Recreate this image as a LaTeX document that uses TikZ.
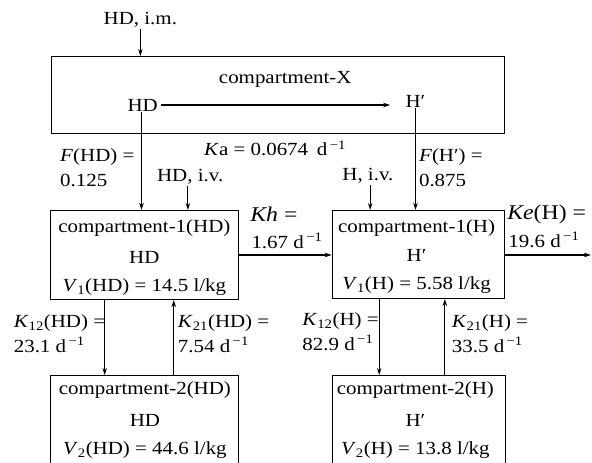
\documentclass[tikz,border=0pt]{standalone}
\usepackage{fontspec}
\setmainfont{Liberation Serif}
\usetikzlibrary{arrows.meta}
\begin{document}
\begin{tikzpicture}[x=1pt,y=-1pt,xscale=1.132,
  every node/.style={transform shape},
  box/.style={draw,line width=1.1pt,inner sep=0pt,anchor=north west},
  lbl/.style={inner sep=1pt,font=\fontsize{18.5}{20}\selectfont},
  big/.style={inner sep=1pt,font=\fontsize{21}{23}\selectfont},
  arr/.style={line width=1.1pt,-{Stealth[length=7pt,width=4.5pt]}}]
\useasboundingbox (0,0) rectangle (523,463);
% boxes
\node[box,minimum width=400pt,minimum height=77pt] (X) at (45,56) {};
\node[box,minimum width=166pt,minimum height=89pt] (c1hd) at (44,210) {};
\node[box,minimum width=152pt,minimum height=88pt] (c1h) at (293,210) {};
\node[box,minimum width=166pt,minimum height=110pt] (c2hd) at (44,375) {};
\node[box,minimum width=153pt,minimum height=110pt] (c2h) at (293,375) {};
% top texts
\node[lbl] (im) at (124,20) {HD, i.m.};
\node[lbl] (xt) at (252,79) {compartment-X};
\node[lbl] (hdx) at (126,105) {HD};
\node[lbl] (hpx) at (367,101) {H′};
\node[lbl] (ka) at (243,148) {\textit{K}a = 0.0674\, d\textsuperscript{\,−1}};
\node[lbl,anchor=west] (fhd) at (52,157) {\textit{F}(HD) =};
\node[lbl,anchor=west] (fhdv) at (52,180) {0.125};
\node[lbl] (hdiv) at (168,177) {HD, i.v.};
\node[lbl] (hiv) at (325,176) {H, i.v.};
\node[lbl,anchor=west] (fh) at (369,157) {\textit{F}(H′) =};
\node[lbl,anchor=west] (fhv) at (369,180) {0.875};
% compartment-1 texts
\node[lbl] (t1a) at (127.5,228) {compartment-1(HD)};
\node[lbl] (t1b) at (127.5,257) {HD};
\node[lbl] (t1c) at (127.5,287) {\textit{V}\textsubscript{1}(HD) = 14.5 l/kg};
\node[lbl] (t2a) at (368,228) {compartment-1(H)};
\node[lbl] (t2b) at (368,255) {H′};
\node[lbl] (t2c) at (368,285) {\textit{V}\textsubscript{1}(H) = 5.58 l/kg};
% compartment-2 texts
\node[lbl] (t3a) at (128,390) {compartment-2(HD)};
\node[lbl] (t3b) at (128,420) {HD};
\node[lbl] (t3c) at (128,450) {\textit{V}\textsubscript{2}(HD) = 44.6 l/kg};
\node[lbl] (t4a) at (367,390) {compartment-2(H)};
\node[lbl] (t4b) at (367,420) {H′};
\node[lbl] (t4c) at (367,450) {\textit{V}\textsubscript{2}(H) = 13.8 l/kg};
% rate labels
\node[big,anchor=west] (kh) at (220,214) {\textit{Kh} =};
\node[lbl,anchor=west] (khv) at (221,241) {1.67 d\textsuperscript{\,−1}};
\node[big,anchor=west] (ke) at (447,214) {\textit{Ke}(H) =};
\node[lbl,anchor=west] (kev) at (448,240) {19.6 d\textsuperscript{\,−1}};
\node[lbl,anchor=west] (k12a) at (11,323) {\textit{K}\textsubscript{12}(HD) =};
\node[lbl,anchor=west] (k12av) at (11,345) {23.1 d\textsuperscript{\,−1}};
\node[lbl,anchor=west] (k21a) at (156,323) {\textit{K}\textsubscript{21}(HD) =};
\node[lbl,anchor=west] (k21av) at (156,345) {7.54 d\textsuperscript{\,−1}};
\node[lbl,anchor=west] (k12b) at (266,321) {\textit{K}\textsubscript{12}(H) =};
\node[lbl,anchor=west] (k12bv) at (266,343) {82.9 d\textsuperscript{\,−1}};
\node[lbl,anchor=west] (k21b) at (398,323) {\textit{K}\textsubscript{21}(H) =};
\node[lbl,anchor=west] (k21bv) at (398,345) {33.5 d\textsuperscript{\,−1}};
\coordinate (out) at (522,255);
% connectors
\draw[arr] (im.south) -- (im.south |- X.north);
\draw[arr,shorten <=2pt,shorten >=14pt] (hdx.east) -- (hdx.east -| hpx.west);
\draw[arr] (125,0 |- hdx.south) -- (125,0 |- c1hd.north);
\draw[arr] (hpx.south) -- (hpx.south |- c1h.north);
\draw[arr] (166,0 |- hdiv.south) -- (166,0 |- c1hd.north);
\draw[arr] (327,0 |- hiv.south) -- (327,0 |- c1h.north);
\draw[arr] (c1hd.east |- 0,255) -- (c1h.west |- 0,255);
\draw[arr] (c1h.east |- out) -- (out);
\draw[arr] (92.5,0 |- c1hd.south) -- (92.5,0 |- c2hd.north);
\draw[arr] (153.5,0 |- c2hd.north) -- (153.5,0 |- c1hd.south);
\draw[arr] (335,0 |- c1h.south) -- (335,0 |- c2h.north);
\draw[arr] (393,0 |- c2h.north) -- (393,0 |- c1h.south);
\end{tikzpicture}
\end{document}
